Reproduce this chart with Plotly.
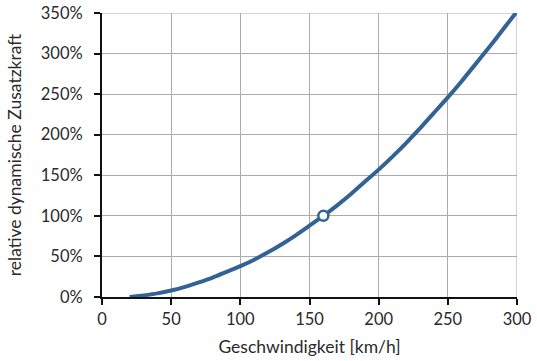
import plotly.graph_objects as go

# Speed [km/h] and relative dynamic additional force [%]
speed = [20, 30, 40, 50, 60, 70, 80, 90, 100, 110, 120, 130, 140, 150, 160,
         170, 180, 190, 200, 210, 220, 230, 240, 250, 260, 270, 280, 290, 300]
force_pct = [0, 2, 4.5, 8, 12.5, 18, 24, 31, 38, 46, 55, 65, 76, 88, 100,
             113, 127, 142, 157, 173, 190, 208, 227, 246, 266, 287, 308, 330, 352]

# Reference point
ref_speed = [160]
ref_force = [100]

x_ticks = [0, 50, 100, 150, 200, 250, 300]
y_ticks = [0, 50, 100, 150, 200, 250, 300, 350]
y_tick_labels = [f"{v}%" for v in y_ticks]

blue = "#336394"
font_family = "Lato, 'Open Sans', sans-serif"

fig = go.Figure()
fig.add_trace(go.Scatter(
    x=speed, y=force_pct, mode="lines",
    line=dict(color=blue, width=4, shape="spline", smoothing=0.6),
    showlegend=False, cliponaxis=False,
))
fig.add_trace(go.Scatter(
    x=ref_speed, y=ref_force, mode="markers",
    marker=dict(size=10, color="white", line=dict(color=blue, width=2.5)),
    showlegend=False, cliponaxis=False,
))

fig.update_layout(
    width=537, height=361,
    margin=dict(l=102, r=20, t=13, b=64),
    paper_bgcolor="white", plot_bgcolor="white",
    font=dict(family=font_family, size=16.5, color="#2a2a2a"),
    xaxis=dict(
        range=[0, 300], tickvals=x_ticks, automargin=False,
        showgrid=True, gridcolor="#ababab", gridwidth=1,
        showline=True, linecolor="#111111", linewidth=2,
        ticks="outside", ticklen=6, tickwidth=2, tickcolor="#111111",
        zeroline=False,
        title=dict(text="Geschwindigkeit [km/h]", font=dict(size=17.5), standoff=13),
    ),
    yaxis=dict(
        range=[0, 350], tickvals=y_ticks, ticktext=y_tick_labels, automargin=False,
        showgrid=True, gridcolor="#ababab", gridwidth=1,
        showline=True, linecolor="#111111", linewidth=2,
        ticks="outside", ticklen=6, tickwidth=2, tickcolor="#111111",
        ticklabelstandoff=8,
        zeroline=False,
        title=dict(text="relative dynamische Zusatzkraft", font=dict(size=17.5), standoff=15),
    ),
)

# Right and top grid borders
fig.add_shape(type="line", xref="x", yref="paper", x0=300, x1=300, y0=0, y1=1,
              line=dict(color="#ababab", width=1), layer="below")
fig.add_shape(type="line", xref="paper", yref="y", x0=0, x1=1, y0=350, y1=350,
              line=dict(color="#ababab", width=1), layer="below")

fig.write_html("out.html")
